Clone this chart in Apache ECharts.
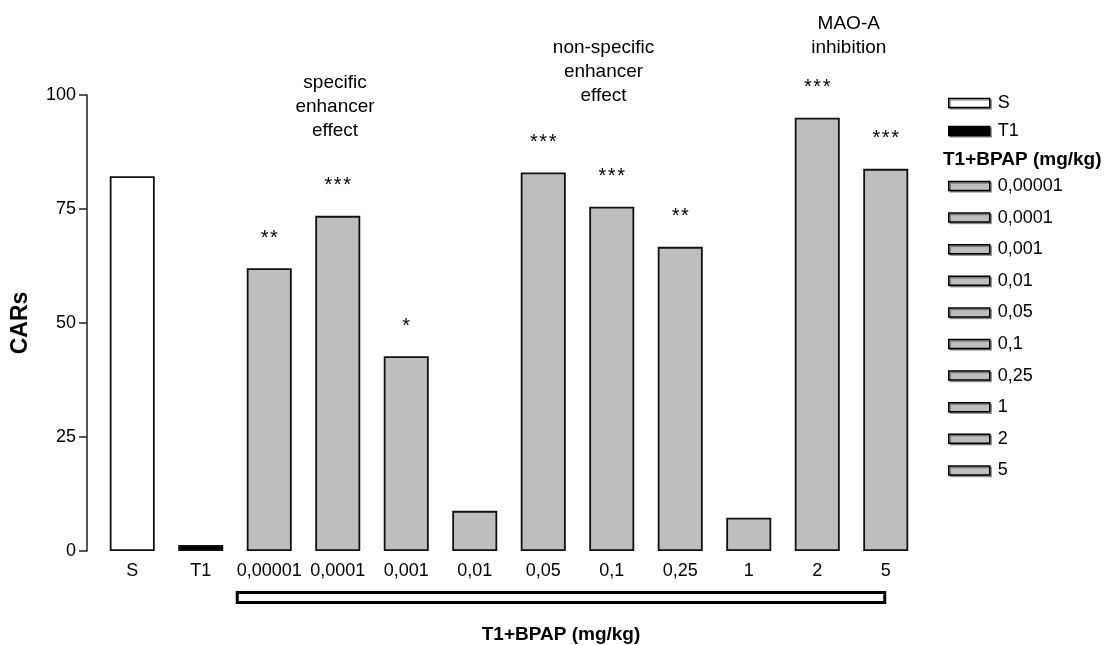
<!DOCTYPE html>
<html>
<head>
    <meta charset="utf-8">
    <title>CARs - T1+BPAP</title>
    <script src="https://cdn.jsdelivr.net/npm/echarts@6/dist/echarts.min.js"></script>
    <style>
        html, body { margin: 0; padding: 0; background: #fff; }
        #chart { width: 1119px; height: 645px; }
    </style>
</head>
<body>
<div id="chart"></div>
<script type="text/javascript">
    // data
    var categories = ['S', 'T1', '0,00001', '0,0001', '0,001', '0,01', '0,05', '0,1', '0,25', '1', '2', '5'];
    var values = [82.2, 1.3, 62.0, 73.5, 42.7, 8.8, 83.0, 75.5, 66.7, 7.3, 95.0, 83.8];
    var stars = ['', '', '**', '***', '*', '', '***', '***', '**', '', '***', '***'];
    var yTicks = [0, 25, 50, 75, 100];
    var groupName = 'T1+BPAP (mg/kg)';
    var annotations = ['specific\nenhancer\neffect', 'non-specific\nenhancer\neffect', 'MAO-A\ninhibition'];

    var FONT = '"Liberation Sans", Arial, sans-serif';
    var GREY = '#bebebe';

    function fillFor(i) {
        if (i === 0) return '#ffffff';
        if (i === 1) return '#000000';
        return GREY;
    }

    var series = categories.map(function (name, i) {
        var data = categories.map(function (c, j) { return j === i ? values[j] : '-'; });
        return {
            name: name,
            type: 'bar',
            stack: 'all',
            barWidth: 45,
            data: data,
            itemStyle: { color: fillFor(i), borderColor: '#111', borderWidth: 1.8 },
            label: {
                show: true,
                position: 'top',
                distance: 20,
                color: '#000',
                fontFamily: FONT,
                fontSize: 20,
                // the stars are spread a little in the original
                formatter: function () { return stars[i].split('').join('\u200A'); }
            },
            emphasis: { disabled: true }
        };
    });

    var legendText = { color: '#000', fontFamily: FONT, fontSize: 18, lineHeight: 20, padding: [0, 0, 0, 3] };
    var legendIcon = { borderColor: '#000', borderWidth: 1.5, shadowColor: 'rgba(0,0,0,0.35)', shadowOffsetX: 1.5, shadowOffsetY: 1.5 };

    var myChart = echarts.init(document.getElementById('chart'));
    myChart.setOption({
        animation: false,
        backgroundColor: '#fff',
        grid: { left: 98, right: 199, top: 95, bottom: 94 },
        legend: [
            {
                data: categories.slice(0, 2),
                orient: 'vertical', left: 948, top: 93, padding: 0,
                itemWidth: 41, itemHeight: 9, itemGap: 8, icon: 'rect',
                selectedMode: false,
                itemStyle: legendIcon,
                textStyle: legendText
            },
            {
                data: categories.slice(2),
                orient: 'vertical', left: 948, top: 176, padding: 0,
                itemWidth: 41, itemHeight: 9, itemGap: 11.6, icon: 'rect',
                selectedMode: false,
                itemStyle: legendIcon,
                textStyle: legendText
            }
        ],
        xAxis: {
            type: 'category',
            data: categories,
            axisLine: { show: false },
            axisTick: { show: false },
            axisLabel: { interval: 0, margin: 11, color: '#000', fontFamily: FONT, fontSize: 18 }
        },
        yAxis: {
            type: 'value',
            min: yTicks[0],
            max: yTicks[yTicks.length - 1],
            interval: yTicks[1] - yTicks[0],
            offset: 11,
            name: 'CARs',
            nameLocation: 'middle',
            nameGap: 55,
            nameTextStyle: { color: '#000', fontFamily: FONT, fontSize: 23, fontWeight: 'bold' },
            axisLine: { show: true, lineStyle: { color: '#222', width: 1.5 } },
            axisTick: { show: true, length: 8, lineStyle: { color: '#222', width: 1.5 } },
            axisLabel: { margin: 11, color: '#000', fontFamily: FONT, fontSize: 18 },
            splitLine: { show: false }
        },
        series: series
    });

    // annotations, legend heading, bracket and bottom title
    var x0 = myChart.convertToPixel({ xAxisIndex: 0 }, categories[0]);
    var step = myChart.convertToPixel({ xAxisIndex: 0 }, categories[1]) - x0;
    function px(pos) { return x0 + pos * step; }

    var annoPos = [[2.96, 106.5], [6.88, 71.7], [10.46, 36]];
    var graphics = annotations.map(function (t, k) {
        return {
            type: 'text',
            x: px(annoPos[k][0]),
            y: annoPos[k][1],
            style: {
                text: t, fill: '#000', font: '19px ' + FONT,
                align: 'center', verticalAlign: 'middle', lineHeight: 24
            }
        };
    });

    var bracketLeft = px(2) - 32;
    var bracketRight = px(11) - 1;
    graphics.push({
        type: 'rect',
        shape: { x: bracketLeft, y: 592.5, width: bracketRight - bracketLeft, height: 10 },
        style: { fill: '#fff', stroke: '#000', lineWidth: 3 }
    });
    graphics.push({
        type: 'text',
        x: (bracketLeft + bracketRight) / 2,
        y: 635,
        style: {
            text: groupName, fill: '#000', font: 'bold 19px ' + FONT,
            align: 'center', verticalAlign: 'middle'
        }
    });
    graphics.push({
        type: 'text',
        x: 943,
        y: 160,
        style: {
            text: groupName, fill: '#000', font: 'bold 19px ' + FONT,
            align: 'left', verticalAlign: 'middle'
        }
    });

    myChart.setOption({ graphic: graphics });
</script>
</body>
</html>
